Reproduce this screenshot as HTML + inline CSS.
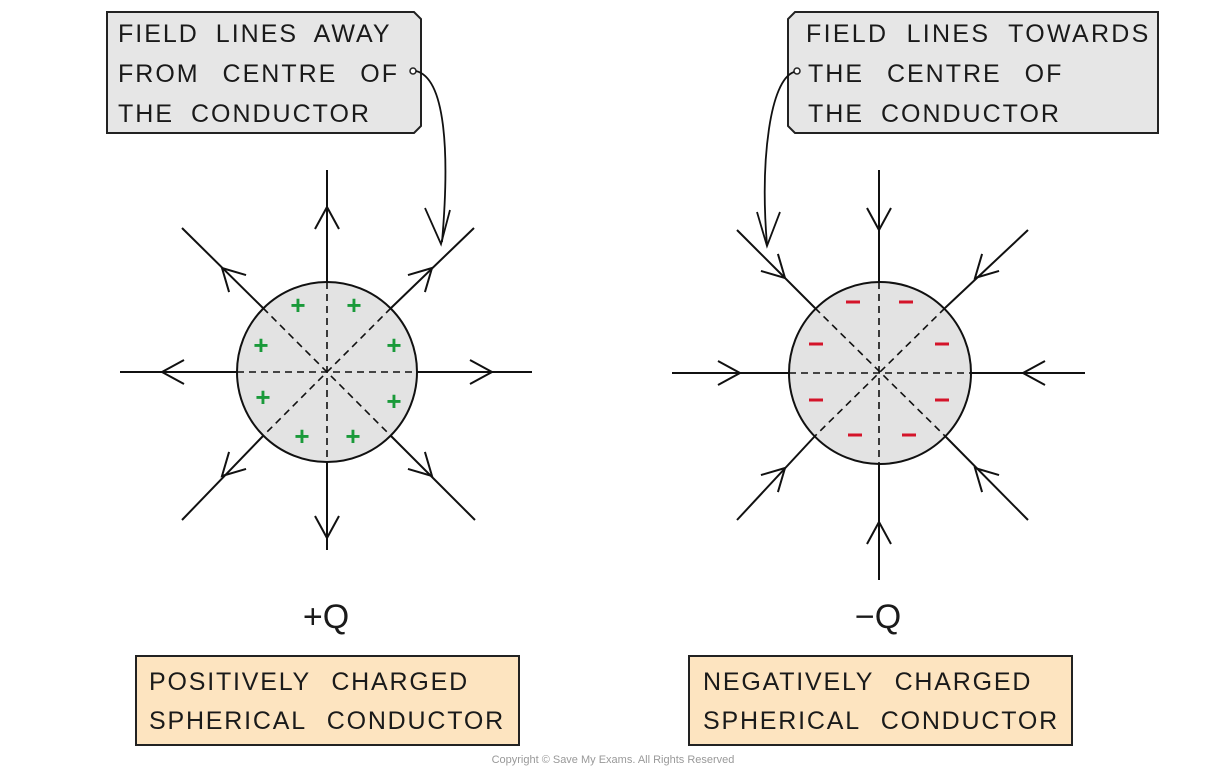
<!DOCTYPE html>
<html><head><meta charset="utf-8"><style>
html,body{margin:0;padding:0;background:#fff;}
svg{display:block;}
text{font-family:"Liberation Sans",sans-serif;fill:#1a1a1a;}
</style></head><body>
<svg width="1226" height="771" viewBox="0 0 1226 771" xmlns="http://www.w3.org/2000/svg">
<defs>
<g id="ch"><polyline points="-12,22 0,0 12,22" fill="none" stroke="#111" stroke-width="2"/></g>
</defs>
<!-- top boxes -->
<path d="M107,12 H414 L421,19 V126 L414,133 H107 Z" fill="#e6e6e6" stroke="#222" stroke-width="2"/>
<text x="118" y="42" font-size="25" letter-spacing="2" word-spacing="8">FIELD LINES AWAY</text>
<text x="118" y="82" font-size="25" letter-spacing="2" word-spacing="14">FROM CENTRE OF</text>
<text x="118" y="122" font-size="25" letter-spacing="2" word-spacing="8">THE CONDUCTOR</text>
<circle cx="413" cy="71" r="3" fill="#fff" stroke="#222" stroke-width="1.5"/>
<path d="M416,71 C445,78 450,150 442,242" fill="none" stroke="#111" stroke-width="1.8"/>
<polyline points="425,208 441,244 450,210" fill="none" stroke="#111" stroke-width="1.8"/>

<path d="M795,12 H1158 V133 H795 L788,126 V19 Z" fill="#e6e6e6" stroke="#222" stroke-width="2"/>
<text x="806" y="42" font-size="25" letter-spacing="2.3" word-spacing="9">FIELD LINES TOWARDS</text>
<text x="808" y="82" font-size="25" letter-spacing="2" word-spacing="14">THE CENTRE OF</text>
<text x="808" y="122" font-size="25" letter-spacing="2" word-spacing="8">THE CONDUCTOR</text>
<circle cx="797" cy="71" r="3" fill="#fff" stroke="#222" stroke-width="1.5"/>
<path d="M794,72 C770,80 760,160 767,245" fill="none" stroke="#111" stroke-width="1.8"/>
<polyline points="757,212 767,246 780,212" fill="none" stroke="#111" stroke-width="1.8"/>

<!-- left diagram -->
<circle cx="327" cy="372" r="90" fill="#e3e3e3" stroke="#111" stroke-width="2"/>
<g stroke="#111" stroke-width="2" fill="none">
<line x1="120" y1="372" x2="237" y2="372"/><line x1="417" y1="372" x2="532" y2="372"/>
<line x1="327" y1="170" x2="327" y2="282"/><line x1="327" y1="462" x2="327" y2="550"/>
<line x1="182" y1="228" x2="263" y2="308"/><line x1="391" y1="436" x2="475" y2="520"/>
<line x1="474" y1="228" x2="391" y2="308"/><line x1="263" y1="436" x2="182" y2="520"/>
</g>
<g stroke="#111" stroke-width="1.6" stroke-dasharray="7,5">
<line x1="237" y1="372" x2="417" y2="372"/><line x1="327" y1="282" x2="327" y2="462"/>
<line x1="263" y1="308" x2="391" y2="436"/><line x1="391" y1="308" x2="263" y2="436"/>
</g>
<use href="#ch" transform="translate(327,207)"/>
<use href="#ch" transform="translate(327,538) rotate(180)"/>
<use href="#ch" transform="translate(162,372) rotate(-90)"/>
<use href="#ch" transform="translate(492,372) rotate(90)"/>
<use href="#ch" transform="translate(222,268) rotate(-45)"/>
<use href="#ch" transform="translate(432,268) rotate(45)"/>
<use href="#ch" transform="translate(222,476) rotate(-135)"/>
<use href="#ch" transform="translate(432,476) rotate(135)"/>
<g font-size="26" font-weight="bold" text-anchor="middle">
<text x="298" y="314" style="fill:#1a9a3a">+</text><text x="354" y="314" style="fill:#1a9a3a">+</text>
<text x="261" y="354" style="fill:#1a9a3a">+</text><text x="394" y="354" style="fill:#1a9a3a">+</text>
<text x="263" y="406" style="fill:#1a9a3a">+</text><text x="394" y="410" style="fill:#1a9a3a">+</text>
<text x="302" y="445" style="fill:#1a9a3a">+</text><text x="353" y="445" style="fill:#1a9a3a">+</text>
</g>
<text x="326" y="628" font-size="34" text-anchor="middle">+Q</text>

<!-- right diagram -->
<circle cx="880" cy="373" r="91" fill="#e3e3e3" stroke="#111" stroke-width="2"/>
<g stroke="#111" stroke-width="2" fill="none">
<line x1="672" y1="373" x2="789" y2="373"/><line x1="971" y1="373" x2="1085" y2="373"/>
<line x1="879" y1="170" x2="879" y2="282"/><line x1="879" y1="464" x2="879" y2="580"/>
<line x1="737" y1="230" x2="815" y2="308"/><line x1="945" y1="436" x2="1028" y2="520"/>
<line x1="1028" y1="230" x2="945" y2="308"/><line x1="815" y1="436" x2="737" y2="520"/>
</g>
<g stroke="#111" stroke-width="1.6" stroke-dasharray="7,5">
<line x1="789" y1="373" x2="971" y2="373"/><line x1="879" y1="282" x2="879" y2="464"/>
<line x1="815" y1="308" x2="945" y2="436"/><line x1="945" y1="308" x2="815" y2="436"/>
</g>
<use href="#ch" transform="translate(879,230) rotate(180)"/>
<use href="#ch" transform="translate(879,522)"/>
<use href="#ch" transform="translate(740,373) rotate(90)"/>
<use href="#ch" transform="translate(1023,373) rotate(-90)"/>
<use href="#ch" transform="translate(785,278) rotate(135)"/>
<use href="#ch" transform="translate(975,278) rotate(-135)"/>
<use href="#ch" transform="translate(785,468) rotate(45)"/>
<use href="#ch" transform="translate(975,468) rotate(-45)"/>
<g stroke="#d4142a" stroke-width="3">
<line x1="846" y1="302" x2="860" y2="302"/><line x1="899" y1="302" x2="913" y2="302"/>
<line x1="809" y1="344" x2="823" y2="344"/><line x1="935" y1="344" x2="949" y2="344"/>
<line x1="809" y1="400" x2="823" y2="400"/><line x1="935" y1="400" x2="949" y2="400"/>
<line x1="848" y1="435" x2="862" y2="435"/><line x1="902" y1="435" x2="916" y2="435"/>
</g>
<text x="878" y="628" font-size="34" text-anchor="middle">−Q</text>

<!-- bottom boxes -->
<rect x="136" y="656" width="383" height="89" fill="#fde4c0" stroke="#222" stroke-width="2"/>
<text x="149" y="690" font-size="25" letter-spacing="1.8" word-spacing="12">POSITIVELY CHARGED</text>
<text x="149" y="729" font-size="25" letter-spacing="1.8" word-spacing="12">SPHERICAL CONDUCTOR</text>
<rect x="689" y="656" width="383" height="89" fill="#fde4c0" stroke="#222" stroke-width="2"/>
<text x="703" y="690" font-size="25" letter-spacing="1.8" word-spacing="12">NEGATIVELY CHARGED</text>
<text x="703" y="729" font-size="25" letter-spacing="1.8" word-spacing="12">SPHERICAL CONDUCTOR</text>

<text x="613" y="763" font-size="11" text-anchor="middle" style="fill:#999">Copyright © Save My Exams. All Rights Reserved</text>
</svg>
</body></html>
